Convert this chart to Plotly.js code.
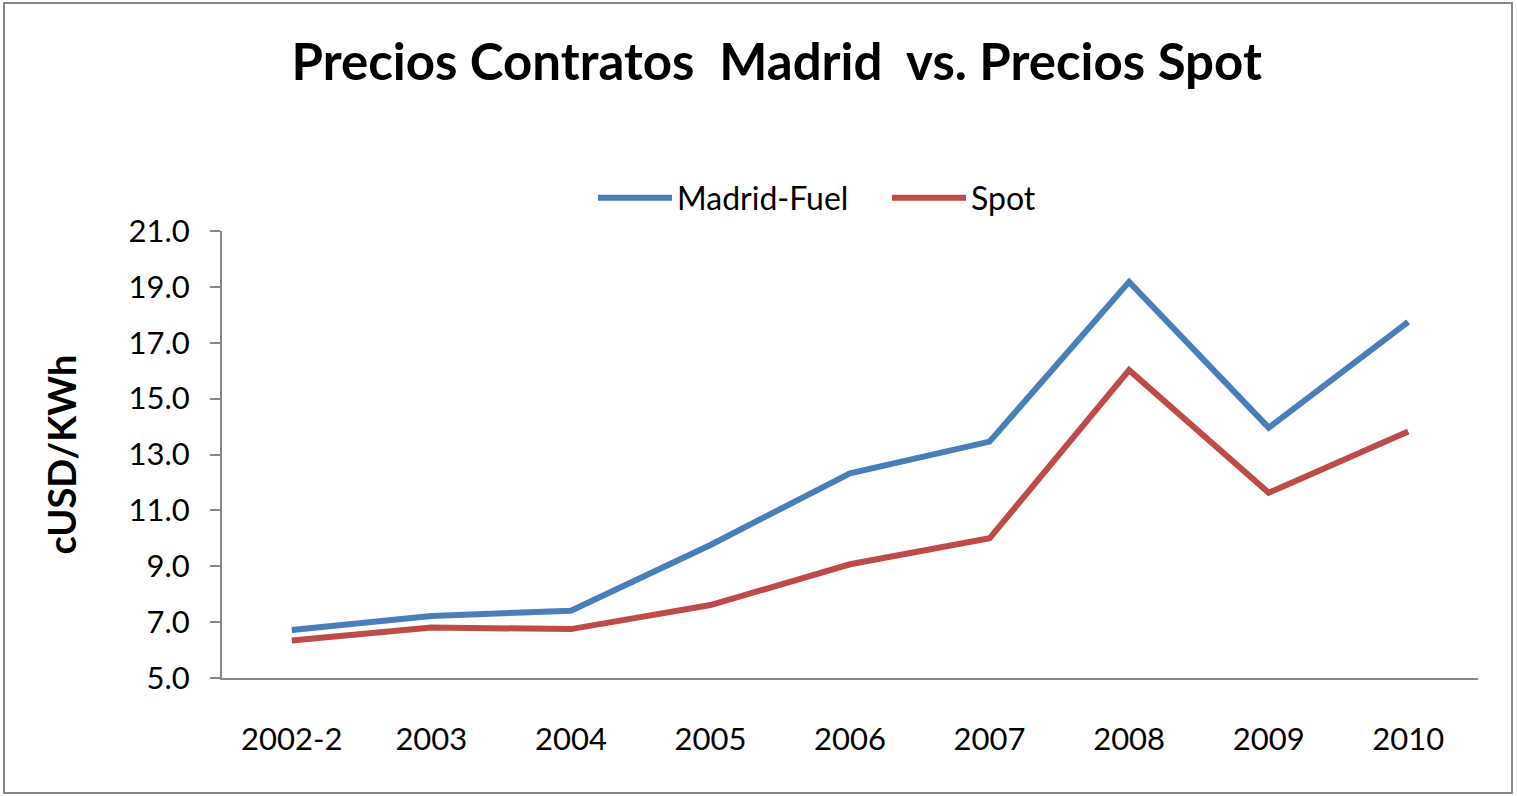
<!DOCTYPE html>
<html>
<head>
<meta charset="utf-8">
<script src="https://cdn.plot.ly/plotly-3.0.1.min.js"></script>
<style>html,body{margin:0;padding:0;background:#fff;}#chart{width:1517px;height:796px;}</style>
</head>
<body>
<div id="chart"></div>
<script>
const categories = ["2002-2","2003","2004","2005","2006","2007","2008","2009","2010"];
const madridFuel = [6.72, 7.22, 7.41, 9.76, 12.33, 13.46, 19.18, 13.96, 17.75];
const spot = [6.34, 6.81, 6.75, 7.61, 9.07, 10.0, 16.02, 11.63, 13.82];
const yTickVals = [5,7,9,11,13,15,17,19,21];

const FONT = "Lato, 'Open Sans', sans-serif";
const traces = [
  {x: categories, y: madridFuel, name: "Madrid-Fuel", type: "scatter", mode: "lines",
   line: {color: "#4A7EBB", width: 6}},
  {x: categories, y: spot, name: "Spot", type: "scatter", mode: "lines",
   line: {color: "#BE4B48", width: 6}}
];
const L = 222, R = 39, T = 231, B = 118;
const pw = 1517 - L - R, ph = 796 - T - B;
const layout = {
  width: 1517, height: 796,
  margin: {l: L, r: R, t: T, b: B, pad: 0},
  paper_bgcolor: "#fff", plot_bgcolor: "#fff",
  font: {family: FONT, color: "#000", size: 31},
  title: {text: "<b>Precios Contratos  Madrid  vs. Precios Spot</b>", font: {family: FONT, size: 51, color: "#000"},
          x: 0.512, xanchor: "center", y: 0.922, yanchor: "middle"},
  showlegend: true,
  legend: {orientation: "h", x: (593-L)/pw, xanchor: "left", y: (678-198)/ph, yanchor: "middle",
           font: {family: FONT, size: 32, color: "#000"}, bgcolor: "rgba(0,0,0,0)", itemwidth: 74,
           entrywidth: 205, entrywidthmode: "pixels"},
  xaxis: {type: "category", range: [-0.5, 8.5], showline: true, linecolor: "#868686", linewidth: 2,
          ticks: "", showgrid: false, zeroline: false, ticklabelstandoff: 33,
          tickfont: {family: FONT, size: 31, color: "#000"}, fixedrange: true},
  yaxis: {range: [5, 21], tickvals: yTickVals, tickformat: ".1f", showline: true, linecolor: "#868686", linewidth: 2,
          ticks: "outside", ticklen: 10, tickwidth: 2, tickcolor: "#868686", ticklabelstandoff: 14,
          showgrid: false, zeroline: false, tickfont: {family: FONT, size: 31, color: "#000"},
          title: {text: "<b>cUSD/KWh</b>", font: {family: FONT, size: 38, color: "#000"}, standoff: 40},
          fixedrange: true},
  shapes: [{type: "rect", xref: "paper", yref: "paper",
            x0: (4-L)/pw, x1: (1512-L)/pw, y0: (678-793)/ph, y1: (678-3)/ph,
            line: {color: "#868686", width: 2}, fillcolor: "rgba(0,0,0,0)", layer: "below"}]
};
Plotly.newPlot("chart", traces, layout, {displayModeBar: false, staticPlot: true});
</script>
</body>
</html>
